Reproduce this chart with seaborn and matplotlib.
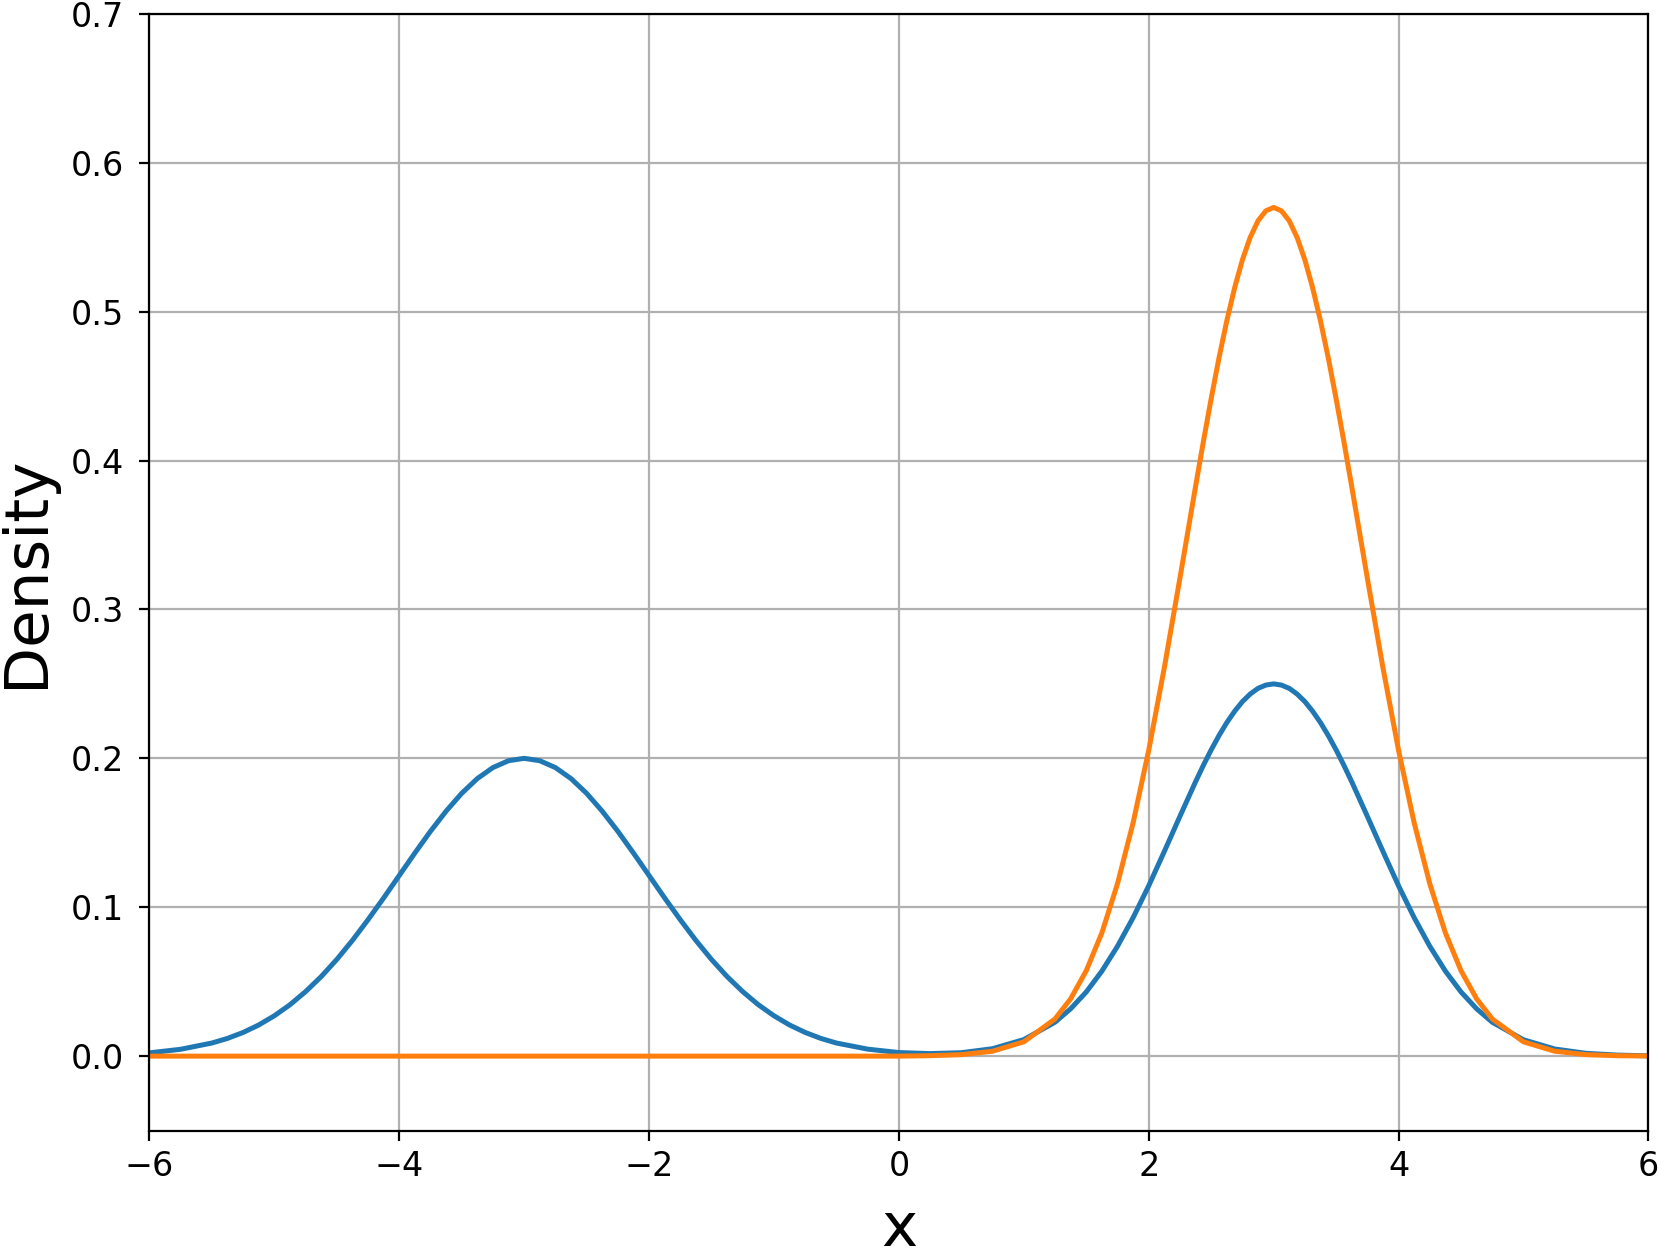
import matplotlib
matplotlib.use("Agg")
import matplotlib.pyplot as plt
import seaborn as sns
import pandas as pd

# x positions (denser where the curves bend most)
x_vals = [-6, -5.75, -5.5,
          -5.375, -5.25, -5.125, -5, -4.875, -4.75, -4.625, -4.5, -4.375, -4.25,
          -4.125, -4, -3.875, -3.75, -3.625, -3.5, -3.375, -3.25, -3.125, -3,
          -2.875, -2.75, -2.625, -2.5, -2.375, -2.25, -2.125, -2, -1.875, -1.75,
          -1.625, -1.5, -1.375, -1.25, -1.125, -1, -0.875, -0.75, -0.625,
          -0.5, -0.25, 0, 0.25, 0.5, 0.75, 1, 1.25,
          1.375, 1.5, 1.625, 1.75, 1.875, 2, 2.125, 2.25, 2.375,
          2.4375, 2.5, 2.5625, 2.625, 2.6875, 2.75, 2.8125, 2.875, 2.9375, 3,
          3.0625, 3.125, 3.1875, 3.25, 3.3125, 3.375, 3.4375, 3.5, 3.5625,
          3.625, 3.75, 3.875, 4, 4.125, 4.25, 4.375, 4.5, 4.625,
          4.75, 5, 5.25, 5.5, 5.75, 6]

# blue curve (two bumps)
blue_density = [0.0022, 0.0046, 0.0088,
                0.0119, 0.0159, 0.0209, 0.0271, 0.0345, 0.0433, 0.0534, 0.0649,
                0.0777, 0.0916, 0.1062, 0.1213, 0.1364, 0.1510, 0.1645, 0.1765,
                0.1864, 0.1938, 0.1984, 0.2000,
                0.1984, 0.1938, 0.1864, 0.1765, 0.1645, 0.1510, 0.1364, 0.1213,
                0.1062, 0.0916, 0.0777, 0.0649, 0.0534, 0.0433, 0.0345, 0.0271,
                0.0209, 0.0159, 0.0119,
                0.0088, 0.0047, 0.0024, 0.0017, 0.0023, 0.0050, 0.0111, 0.0228,
                0.0318, 0.0431, 0.0571, 0.0738, 0.0930, 0.1144, 0.1375, 0.1611,
                0.1843,
                0.1953, 0.2057, 0.2153, 0.2240, 0.2316, 0.2381, 0.2432, 0.2470,
                0.2492, 0.2500, 0.2492, 0.2470, 0.2432, 0.2381, 0.2316, 0.2240,
                0.2153, 0.2057, 0.1953,
                0.1843, 0.1611, 0.1375, 0.1144, 0.0930, 0.0738, 0.0571, 0.0431,
                0.0318,
                0.0228, 0.0110, 0.0048, 0.0019, 0.0007, 0.0002]

# orange curve (single narrow bump)
orange_density = [0.0] * 45 + [0.0003, 0.0010, 0.0033, 0.0096, 0.0250,
                  0.0385, 0.0574, 0.0828, 0.1158, 0.1567, 0.2054, 0.2609, 0.3211,
                  0.3826,
                  0.4127, 0.4416, 0.4689, 0.4938, 0.5159, 0.5348, 0.5499, 0.5610,
                  0.5677, 0.5700, 0.5677, 0.5610, 0.5499, 0.5348, 0.5159, 0.4938,
                  0.4689, 0.4416, 0.4127,
                  0.3826, 0.3211, 0.2609, 0.2054, 0.1567, 0.1158, 0.0828, 0.0574,
                  0.0385,
                  0.0250, 0.0096, 0.0033, 0.0010, 0.0003, 0.0001]

df = pd.DataFrame({"x": x_vals, "blue": blue_density, "orange": orange_density})

fig, ax = plt.subplots(figsize=(8.3, 6.295), dpi=200)
fig.subplots_adjust(left=0.09, right=0.993, top=0.989, bottom=0.102)

sns.lineplot(data=df, x="x", y="blue", ax=ax, color="#1f77b4", linewidth=1.8)
sns.lineplot(data=df, x="x", y="orange", ax=ax, color="#ff7f0e", linewidth=1.8)

ax.set_xlim(-6, 6)
ax.set_ylim(-0.05, 0.7)
ax.grid(True, color="#b0b0b0", linewidth=0.8)
ax.set_axisbelow(True)
ax.tick_params(labelsize=12)
ax.tick_params(axis="y", pad=5.5)
ax.set_xlabel("x", fontsize=22, labelpad=6)
ax.set_ylabel("Density", fontsize=22, labelpad=5.5)

fig.savefig("out.png", dpi=200)
